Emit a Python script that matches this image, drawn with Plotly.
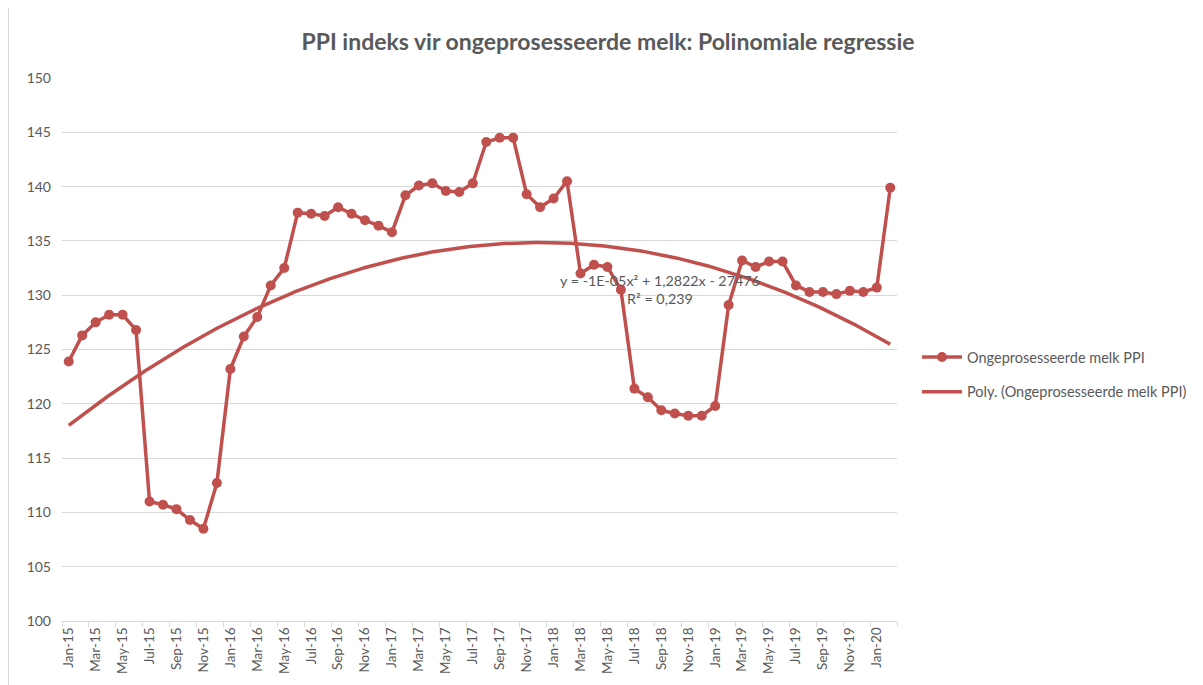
import numpy as np
import plotly.graph_objects as go

months = ["Jan", "Feb", "Mar", "Apr", "May", "Jun", "Jul", "Aug", "Sep", "Oct", "Nov", "Dec"]
categories = [f"{m}-{y}" for y in range(15, 21) for m in months][:62]

ppi = [123.9, 126.3, 127.5, 128.2, 128.2, 126.8, 111.0, 110.7, 110.3, 109.3, 108.5, 112.7,
       123.2, 126.2, 128.0, 130.9, 132.5, 137.6, 137.5, 137.3, 138.1, 137.5, 136.9, 136.4,
       135.8, 139.2, 140.1, 140.3, 139.6, 139.5, 140.3, 144.1, 144.5, 144.5, 139.3, 138.1,
       138.9, 140.5, 132.0, 132.8, 132.6, 130.5, 121.4, 120.6, 119.4, 119.1, 118.9, 118.9,
       119.8, 129.1, 133.2, 132.6, 133.1, 133.1, 130.9, 130.3, 130.3, 130.1, 130.4, 130.3,
       130.7, 139.9]

series_name = "Ongeprosesseerde melk PPI"
trend_name = "Poly. (Ongeprosesseerde melk PPI)"
title_text = "PPI indeks vir ongeprosesseerde melk: Polinomiale regressie"
eq_text = "y = -1E-05x² + 1,2822x - 27476"
r2_text = "R² = 0,239"

idx = np.arange(len(ppi))
coef = np.polyfit(idx, ppi, 2)
xf = np.linspace(0, len(ppi) - 1, 400)
yf = np.polyval(coef, xf)

red = "#C0504D"
grey = "#595959"
font = "Lato"

OFF = 8  # page body margin
W, H = 1203 - OFF, 685 - OFF
left, right, top, bottom = 62, 897, 78, 621  # plot area in screenshot px
ml, mt = left - OFF, top - OFF
mr = W - (right - OFF)
mb = H - (bottom - OFF)
pw = right - left
ph = bottom - top


def px(sx):
    return (sx - left) / pw


def py(sy):
    return (bottom - sy) / ph


fig = go.Figure()
fig.add_trace(go.Scatter(x=idx, y=ppi, mode="lines+markers", name=series_name,
                         line=dict(color=red, width=3.5), marker=dict(color=red, size=10),
                         legendgroup="a"))
fig.add_trace(go.Scatter(x=xf, y=yf, mode="lines", name=trend_name,
                         line=dict(color=red, width=3.5), legendgroup="b"))

fig.add_annotation(x=px(660), y=py(280), xref="paper", yref="paper", xanchor="center",
                   yanchor="middle", text=eq_text, showarrow=False,
                   font=dict(family=font, size=14.3, color=grey))
fig.add_annotation(x=px(660), y=py(298), xref="paper", yref="paper", xanchor="center",
                   yanchor="middle", text=r2_text, showarrow=False,
                   font=dict(family=font, size=14.3, color=grey))

fig.add_shape(type="line", xref="paper", yref="paper",
              x0=px(8.5), x1=px(8.5), y0=py(H + OFF), y1=py(OFF),
              line=dict(color="#d9d9d9", width=1))

fig.update_layout(
    width=W, height=H,
    margin=dict(l=ml, r=mr, t=mt, b=mb),
    paper_bgcolor="white", plot_bgcolor="white",
    font=dict(family=font, color=grey, size=14),
    title=dict(text=f"<b>{title_text}</b>", x=(608 - OFF) / W, xanchor="center",
               y=1 - (42 - OFF) / H, yanchor="middle",
               font=dict(family=font, size=23, color=grey)),
    showlegend=True,
    legend=dict(xref="container", yref="container", x=(917 - OFF) / W, y=1 - (341 - OFF) / H,
                xanchor="left", yanchor="top", font=dict(family=font, size=14.5, color=grey),
                tracegroupgap=13, itemwidth=40, bgcolor="rgba(0,0,0,0)"),
    xaxis=dict(range=[-0.5, len(ppi) - 0.5], tickmode="array",
               tickvals=list(idx[::2]), ticktext=categories[::2], tickangle=-90,
               ticks="", showgrid=False, showline=True, linecolor="#d9d9d9", linewidth=1,
               zeroline=False, automargin=False,
               tickfont=dict(family=font, size=13.5, color=grey),
               minor=dict(tick0=-0.5, dtick=2, ticks="outside", ticklen=5,
                          tickcolor="#d9d9d9", tickwidth=1, showgrid=False)),
    yaxis=dict(range=[100, 150], dtick=5, showgrid=True, gridcolor="#d9d9d9", gridwidth=1,
               zeroline=False, showline=False, ticks="", automargin=False,
               ticklabelstandoff=10, tickfont=dict(family=font, size=14, color=grey)),
)

fig.write_html("out.html")
